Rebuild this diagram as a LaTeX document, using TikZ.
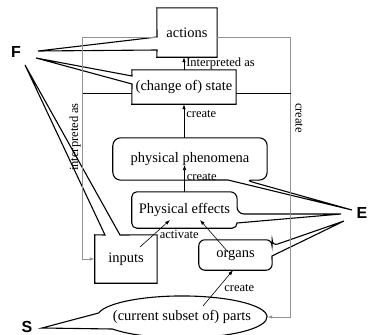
\documentclass[tikz,border=0pt]{standalone}
\usepackage{fontspec}
\setmainfont{Liberation Serif}
\setsansfont{Liberation Sans}
\usetikzlibrary{arrows.meta}

\tikzset{
  txt/.style={inner sep=0pt, font=\fontsize{14.5}{17}\selectfont},
  lbl/.style={inner sep=2pt, font=\fontsize{12.5}{14}\selectfont},
  outl/.style={draw=black, line width=1.1pt},
  arr/.style={line width=0.6pt, -{Latex[length=5pt,width=3.5pt]}},
  gline/.style={draw=gray!85, line width=1pt},
  letter/.style={font=\sffamily\bfseries\fontsize{16}{18}\selectfont}
}

\begin{document}
\begin{tikzpicture}[x=1pt,y=-1pt]
\useasboundingbox (0,0) rectangle (368,335);

% texts (outlines drawn below)
\node[txt, minimum width=60pt, minimum height=49pt] (act) at (187,32.5) {actions};
\node[txt, minimum width=104pt, minimum height=34pt] (st) at (184,87) {(change of) state};
\node[txt, minimum width=154pt, minimum height=42pt] (phen) at (190,159) {physical phenomena};
\node[txt, minimum width=105pt, minimum height=36pt] (eff) at (184.5,210) {Physical effects};
\node[txt, minimum width=62pt, minimum height=48pt] (inp) at (126,259) {inputs};
\node[txt, minimum width=73pt, minimum height=30pt] (org) at (235.5,255) {organs};
\node[txt, minimum width=170pt, minimum height=42pt] (prt) at (182,317) {(current subset of) parts};

\node[letter] (F) at (16,52) {F};
\node[letter] (E) at (362,213) {E};
\node[letter] (S) at (27,327) {S};

% callout outlines
\draw[outl] (act.north west) -- (act.north east) -- (act.south east) -- (act.south west)
    -- (157,50) -- (38,51) -- (157,37) -- cycle; % to F
\draw[outl] (st.north west) -- (st.north east) -- (st.south east) -- (st.south west)
    -- (132,84) -- (36,58) -- (132,76) -- cycle; % to F
\draw[outl, rounded corners=8pt] (phen.north) -- (phen.north east) -- (phen.south east)
    -- (245,180) [sharp corners] -- (352,210) -- (228,180) [rounded corners=8pt]
    -- (phen.south west) -- (phen.north west) -- cycle; % to E
\draw[outl, rounded corners=7pt] (eff.north) -- (eff.north east) -- (237,214) [sharp corners]
    -- (341,214) -- (237,223) [rounded corners=5pt]
    -- (eff.south east) -- (eff.south west) -- (eff.north west) -- cycle; % to E
\draw[outl, rounded corners=6pt] (org.north) -- (org.north east) -- (272,246) [sharp corners]
    -- (344,221) -- (272,256) [rounded corners=6pt]
    -- (org.south east) -- (org.south west) -- (org.north west) -- cycle; % to E
\draw[outl] (inp.north west) -- (105,235) -- (25,65) -- (120,235) -- (inp.north east)
    -- (inp.south east) -- (inp.south west) -- cycle; % to F
\draw[outl] (98.6,313) -- (42,328) -- (112.4,329)
    arc[start angle=145, end angle=-169, x radius=85, y radius=21] -- cycle; % to S

% grey frame
\coordinate (gl) at (83,37);
\coordinate (gr) at (291,37);
\draw[gline, -{Latex[length=5pt,width=3.5pt]}] (act.west |- gl) -- (gl) |- (inp.west);
\draw[gline, -{Latex[length=5pt,width=3.5pt]}] (act.east |- gr) -- (gr) |- (prt.east);
\node[lbl, rotate=90] (lint) at (75,137) {interpreted as};
\node[lbl, rotate=-90] (lcre) at (299,118) {create};

\coordinate (sl) at (83,93);
\coordinate (sr) at (291,93);
\draw[line width=0.6pt] (sl) -- (st.west |- sl);
\draw[line width=0.6pt] (st.east |- sr) -- (sr);

% arrows
\draw[arr] (st.north) -- (st.north |- act.south) node[midway, right, lbl] {Interpreted as};
\draw[arr] (st.south |- phen.north) -- (st.south) node[pos=.7, right, lbl] {create};
\draw[arr, shorten >=6pt] (eff.north) -- (eff.north |- phen.center) node[pos=.45, right, lbl] {create};
\draw[arr] ([xshift=14pt,yshift=12pt]inp.center) -- ([xshift=-14.5pt,yshift=-10pt]eff.center)
    node[pos=.45, right=4pt, lbl] {activate};
\draw[arr] ([xshift=-7.5pt,yshift=3pt]org.center) -- ([xshift=15.5pt,yshift=-10pt]eff.center);
\draw[arr] ([xshift=21pt,yshift=11pt]prt.center) -- ([xshift=-2.5pt]org.south)
    node[midway, right=4pt, lbl] {create};

\end{tikzpicture}
\end{document}
